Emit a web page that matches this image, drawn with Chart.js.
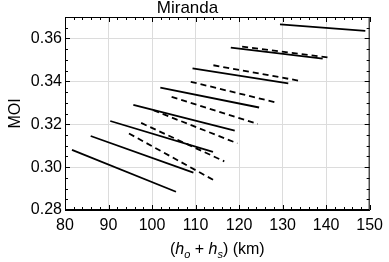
<!DOCTYPE html>
<html>
<head>
<meta charset="utf-8">
<script src="https://cdn.jsdelivr.net/npm/chart.js@4.4.0/dist/chart.umd.min.js"></script>
<style>
  html, body { margin: 0; padding: 0; background: #fff; }
</style>
</head>
<body>
<canvas id="moiChart" width="389" height="262"></canvas>
<script>
// solid segments: start / end of each line (h_o + h_s in km, MOI)
const solidX0 = [81.6, 85.9, 90.4, 95.7, 101.9, 109.3, 118.1, 129.4];
const solidX1 = [105.5, 109.5, 114.0, 119.0, 124.6, 131.3, 139.2, 149.0];
const solidY0 = [0.3080, 0.3145, 0.3215, 0.3290, 0.3371, 0.3460, 0.3557, 0.3666];
const solidY1 = [0.2885, 0.2974, 0.3071, 0.3170, 0.3278, 0.3390, 0.3506, 0.3635];

// dashed segments
const dashX0 = [94.7, 97.5, 100.3, 104.5, 108.9, 114.1, 120.7];
const dashX1 = [114.1, 116.6, 119.6, 124.3, 129.0, 134.3, 140.7];
const dashY0 = [0.3157, 0.3206, 0.3265, 0.3328, 0.3398, 0.3475, 0.3562];
const dashY1 = [0.2940, 0.3027, 0.3111, 0.3201, 0.3299, 0.3401, 0.3511];

const xTicks = [80, 90, 100, 110, 120, 130, 140, 150];
const yTicks = [0.28, 0.30, 0.32, 0.34, 0.36];
const yMax = 0.37;

const FONT = '"Liberation Sans", Arial, sans-serif';
Chart.defaults.font.family = FONT;
Chart.defaults.font.size = 16;
Chart.defaults.color = '#000';

const datasets = [];
solidX0.forEach((x0, i) => {
    datasets.push({
        data: [{ x: x0, y: solidY0[i] }, { x: solidX1[i], y: solidY1[i] }],
        borderColor: '#000',
        borderWidth: 1.8,
        pointRadius: 0
    });
});
dashX0.forEach((x0, i) => {
    datasets.push({
        data: [{ x: x0, y: dashY0[i] }, { x: dashX1[i], y: dashY1[i] }],
        borderColor: '#000',
        borderWidth: 1.8,
        borderDash: [6, 4],
        pointRadius: 0
    });
});

// frame with inward major/minor ticks on all four sides, plus the x axis title
const frameTicks = {
    id: 'frameTicks',
    afterDraw(chart) {
        const { ctx, chartArea: a, scales: { x, y } } = chart;
        ctx.save();
        ctx.strokeStyle = '#000';
        ctx.lineWidth = 1;
        ctx.strokeRect(a.left + 0.5, a.top + 0.5, a.right - a.left - 1, a.bottom - a.top - 1);
        ctx.beginPath();
        const xStep = (xTicks[1] - xTicks[0]) / 5;
        const nx = Math.round((xTicks[xTicks.length - 1] - xTicks[0]) / xStep);
        for (let i = 0; i <= nx; i++) {
            const px = Math.round(x.getPixelForValue(xTicks[0] + i * xStep)) + 0.5;
            const len = i % 5 === 0 ? 5 : 3;
            ctx.moveTo(px, a.bottom); ctx.lineTo(px, a.bottom - len);
            ctx.moveTo(px, a.top); ctx.lineTo(px, a.top + len);
        }
        const yStep = (yTicks[1] - yTicks[0]) / 4;
        const ny = Math.round((yMax - yTicks[0]) / yStep);
        for (let i = 0; i <= ny; i++) {
            const py = Math.round(y.getPixelForValue(yTicks[0] + i * yStep)) + 0.5;
            const len = i % 4 === 0 ? 5 : 3;
            ctx.moveTo(a.left, py); ctx.lineTo(a.left + len, py);
            ctx.moveTo(a.right, py); ctx.lineTo(a.right - len, py);
        }
        ctx.stroke();

        // x title: (h_o + h_s) (km) with italic h and subscripts
        const parts = [
            { t: '(', f: '16px ' + FONT, dy: 0 },
            { t: 'h', f: 'italic 16px ' + FONT, dy: 0 },
            { t: 'o', f: 'italic 11px ' + FONT, dy: 4 },
            { t: ' + ', f: '16px ' + FONT, dy: 0 },
            { t: 'h', f: 'italic 16px ' + FONT, dy: 0 },
            { t: 's', f: 'italic 11px ' + FONT, dy: 4 },
            { t: ') (km)', f: '16px ' + FONT, dy: 0 }
        ];
        let total = 0;
        parts.forEach(p => { ctx.font = p.f; p.w = ctx.measureText(p.t).width; total += p.w; });
        let cx = (a.left + a.right) / 2 - total / 2;
        const base = 254;
        ctx.fillStyle = '#000';
        ctx.textBaseline = 'alphabetic';
        ctx.textAlign = 'left';
        parts.forEach(p => { ctx.font = p.f; ctx.fillText(p.t, cx, base + p.dy); cx += p.w; });
        ctx.restore();
    }
};

new Chart(document.getElementById('moiChart').getContext('2d'), {
    type: 'line',
    data: { datasets: datasets },
    options: {
        responsive: false,
        animation: false,
        layout: { padding: { left: 0, right: 14, top: 0, bottom: 0 } },
        plugins: {
            legend: { display: false },
            tooltip: { enabled: false },
            title: {
                display: true,
                text: 'Miranda',
                font: { size: 17, weight: 'normal', lineHeight: 1 },
                padding: { top: 0, bottom: 0 },
                color: '#000'
            }
        },
        scales: {
            x: {
                type: 'linear',
                min: xTicks[0],
                max: xTicks[xTicks.length - 1],
                afterBuildTicks: s => { s.ticks = xTicks.map(v => ({ value: v })); },
                afterFit: s => { s.height = 52; },
                ticks: { padding: 6, maxRotation: 0, autoSkip: false, callback: v => String(v) },
                grid: { color: '#dcdcdc', drawTicks: false },
                border: { color: '#000' }
            },
            y: {
                type: 'linear',
                min: yTicks[0],
                max: yMax,
                afterBuildTicks: s => { s.ticks = yTicks.map(v => ({ value: v })); },
                afterFit: s => { s.width = 65; },
                ticks: { padding: 3, autoSkip: false, callback: v => v.toFixed(2) },
                grid: { color: '#dcdcdc', drawTicks: false },
                border: { color: '#000' },
                title: { display: true, text: 'MOI', padding: { top: 6, bottom: 0 } }
            }
        }
    },
    plugins: [frameTicks]
});
</script>
</body>
</html>
